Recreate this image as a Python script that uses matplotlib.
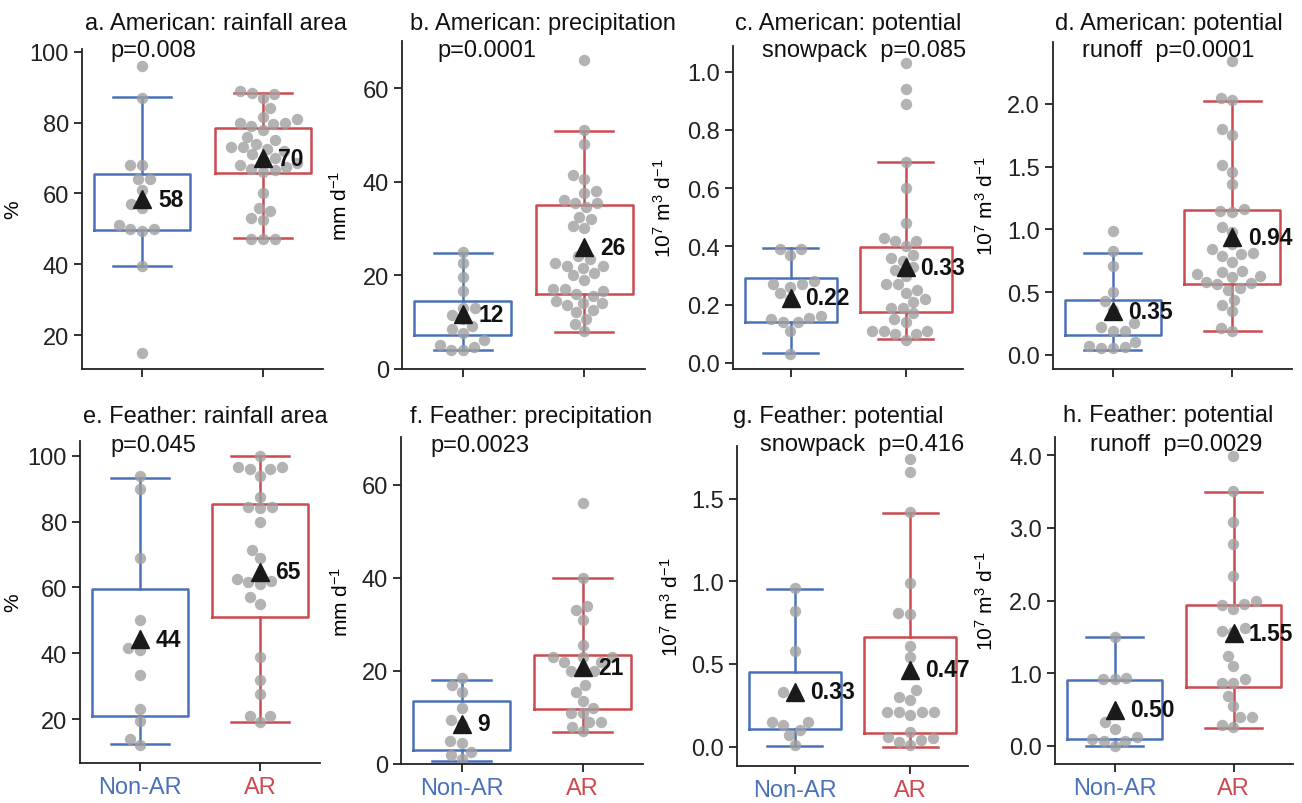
import matplotlib
matplotlib.use('Agg')
import numpy as np
import pandas as pd
import matplotlib.pyplot as plt
import seaborn as sns

plt.rcParams['font.family'] = ['Liberation Sans', 'DejaVu Sans']
plt.rcParams['mathtext.default'] = 'regular'

groups = ['Non-AR', 'AR']
blue = '#4a72b8'
red = '#cc4a50'
dot_color = '#a0a0a0'

titles = ['a. American: rainfall area', 'b. American: precipitation',
          'c. American: potential', 'd. American: potential',
          'e. Feather: rainfall area', 'f. Feather: precipitation',
          'g. Feather: potential', 'h. Feather: potential']
pnotes = ['p=0.008', 'p=0.0001', 'snowpack  p=0.085', 'runoff  p=0.0001',
          'p=0.045', 'p=0.0023', 'snowpack  p=0.416', 'runoff  p=0.0029']
unit_flow = r'10$^{7}$ m$^{3}$ d$^{-1}$'
ylabels = ['%', r'mm d$^{-1}$', unit_flow, unit_flow,
           '%', r'mm d$^{-1}$', unit_flow, unit_flow]

# individual events
a_non = [96, 87, 68, 68, 64, 64, 61, 57, 56, 50, 49.5, 50, 51, 39.5, 15]
a_ar = [89, 88.5, 88, 87, 84, 81.5, 81, 80, 80, 79.5, 79, 78, 76, 75, 74, 73, 73,
        72.5, 72, 71, 70, 69.5, 68.5, 68, 67.5, 67, 66.5, 66, 60, 56, 55, 53, 52.5,
        47, 47, 47]
b_non = [25, 22.5, 19.5, 16.5, 13, 13, 11.5, 10.5, 9, 8.5, 7.5, 6, 5, 4, 4, 4.5]
b_ar = [66, 51, 48, 41.5, 40.5, 38, 37.5, 36, 35.5, 35.5, 34.5, 32.5, 32, 30.5, 30,
        24, 23.5, 22.5, 22, 22, 21.5, 20.5, 20, 19, 17, 17, 16.5, 16, 15.5, 14.5,
        14, 14, 13.5, 12.5, 12, 10.5, 9.5, 8]
c_non = [0.39, 0.39, 0.37, 0.28, 0.27, 0.27, 0.26, 0.24, 0.22, 0.16, 0.155, 0.15,
         0.14, 0.14, 0.11, 0.03]
c_ar = [1.03, 0.94, 0.89, 0.69, 0.60, 0.48, 0.43, 0.42, 0.42, 0.40, 0.37, 0.36,
        0.35, 0.33, 0.32, 0.30, 0.27, 0.27, 0.25, 0.24, 0.22, 0.21, 0.19, 0.19,
        0.17, 0.15, 0.14, 0.11, 0.11, 0.10, 0.10, 0.11, 0.08]
d_non = [0.99, 0.83, 0.71, 0.50, 0.43, 0.36, 0.25, 0.22, 0.19, 0.19, 0.10, 0.06,
         0.05, 0.07, 0.05]
d_ar = [2.34, 2.05, 2.03, 1.80, 1.75, 1.51, 1.46, 1.36, 1.16, 1.15, 1.14, 1.02,
        0.98, 0.88, 0.84, 0.81, 0.80, 0.79, 0.74, 0.67, 0.66, 0.64, 0.63, 0.62,
        0.58, 0.57, 0.56, 0.53, 0.52, 0.44, 0.40, 0.35, 0.21, 0.19]
e_non = [94, 90, 69, 50, 41.5, 41, 33.5, 23, 19.5, 14, 12]
e_ar = [100, 96.5, 96, 96, 96.5, 94, 87.5, 84.5, 84.5, 84, 80, 71.5, 69, 62.5, 62,
        61.5, 61, 57, 55, 39, 32, 27.5, 21, 21, 19]
f_non = [18.5, 17, 15.5, 12, 9.5, 8.5, 5, 4.5, 2, 2.5, 1]
f_ar = [56, 40, 34, 33, 31, 25.5, 23, 23, 23, 22, 22, 20, 20, 20, 17, 15.5, 13.5,
        12, 11, 11, 9, 9, 8, 7]
g_non = [0.96, 0.82, 0.58, 0.33, 0.32, 0.15, 0.15, 0.13, 0.10, 0.07, 0.01]
g_ar = [1.74, 1.66, 1.42, 0.99, 0.81, 0.80, 0.61, 0.54, 0.44, 0.34, 0.30, 0.28,
        0.21, 0.21, 0.21, 0.21, 0.19, 0.09, 0.06, 0.05, 0.04, 0.03, 0.01]
h_non = [1.5, 0.93, 0.92, 0.92, 0.33, 0.23, 0.12, 0.07, 0.07, 0.09, 0.0]
h_ar = [3.99, 3.51, 3.08, 2.78, 2.34, 2.0, 1.95, 1.94, 1.88, 1.62, 1.58, 1.57,
        1.24, 1.10, 0.92, 0.87, 0.86, 0.69, 0.55, 0.40, 0.39, 0.28, 0.26]

non_vals = [a_non, b_non, c_non, d_non, e_non, f_non, g_non, h_non]
ar_vals = [a_ar, b_ar, c_ar, d_ar, e_ar, f_ar, g_ar, h_ar]

# box stats: q1, q3, lower whisker, upper whisker
box_non = [[49.7, 65.4, 39.5, 87.1], [7.1, 14.5, 4.0, 24.7],
           [0.14, 0.29, 0.033, 0.394], [0.16, 0.44, 0.04, 0.81],
           [21, 59.5, 12.4, 93.4], [3.1, 13.6, 0.7, 18.1],
           [0.107, 0.453, 0.006, 0.952], [0.09, 0.91, 0.0, 1.5]]
box_ar = [[65.7, 78.6, 47.3, 88.5], [15.9, 35.1, 7.9, 50.8],
          [0.176, 0.397, 0.082, 0.689], [0.566, 1.155, 0.19, 2.02],
          [50.9, 85.3, 19, 100], [11.8, 23.4, 6.9, 39.9],
          [0.083, 0.66, 0.0, 1.415], [0.81, 1.94, 0.24, 3.5]]

mean_non = [58.4, 11.6, 0.223, 0.348, 44.3, 8.6, 0.33, 0.498]
mean_ar = [69.9, 25.9, 0.328, 0.938, 64.7, 20.8, 0.466, 1.552]
decimals = [0, 0, 2, 2, 0, 0, 2, 2]

ylims = [(10.4, 100.8), (0, 70.1), (-0.021, 1.088), (-0.11, 2.494),
         (6.8, 104.5), (0, 70.2), (-0.115, 1.819), (-0.25, 4.25)]
yticks = [[20, 40, 60, 80, 100], [0, 20, 40, 60], [0, 0.2, 0.4, 0.6, 0.8, 1.0],
          [0, 0.5, 1.0, 1.5, 2.0], [20, 40, 60, 80, 100], [0, 20, 40, 60],
          [0, 0.5, 1.0, 1.5], [0, 1, 2, 3, 4]]
tick_fmt = ['%d', '%d', '%.1f', '%.1f', '%d', '%d', '%.1f', '%.1f']

W, H = 1302, 804
fig = plt.figure(figsize=(W / 100, H / 100), dpi=100)

# axes boxes in pixels: left, top, right, bottom
rects = [(82, 50, 323, 370), (402, 42, 645, 369.5), (733, 47, 963, 370),
         (1053, 43, 1292, 369.5), (80, 442, 320, 763.5), (401, 438, 643, 765),
         (737, 447, 968, 766.5), (1055, 438, 1293, 765)]
title_pos = [(85, 30, 110, 57), (410, 30, 437, 57), (735, 30, 762, 57),
             (1055, 30, 1082, 57), (83, 423, 110, 452), (410, 423, 430, 452),
             (733, 423, 760, 451), (1063, 422, 1090, 451)]
ylab_x = [-0.249, -0.21, -0.252, -0.234, -0.242, -0.203, -0.238, -0.244]

for i in range(8):
    l, t, r, b = rects[i]
    ax = fig.add_axes([l / W, 1 - b / H, (r - l) / W, (b - t) / H])

    df = pd.DataFrame({'group': ['Non-AR'] * len(non_vals[i]) + ['AR'] * len(ar_vals[i]),
                       'value': non_vals[i] + ar_vals[i]})
    sns.swarmplot(data=df, x='group', y='value', order=groups, color=dot_color,
                  size=8.2, alpha=0.8, linewidth=0, ax=ax, zorder=2)

    for k, (st, col) in enumerate([(box_non[i], blue), (box_ar[i], red)]):
        stats = [dict(med=(st[0] + st[1]) / 2, q1=st[0], q3=st[1],
                      whislo=st[2], whishi=st[3], fliers=[])]
        lp = dict(color=col, linewidth=1.8)
        ax.bxp(stats, positions=[k], widths=0.8, capwidths=0.48, showfliers=False,
               boxprops=lp, whiskerprops=lp, capprops=lp,
               medianprops=dict(visible=False), manage_ticks=False, zorder=1)

    fmt = '%.' + str(decimals[i]) + 'f'
    for k, m in enumerate([mean_non[i], mean_ar[i]]):
        ax.plot(k, m, marker='^', color='#1a1a1a', markersize=12.5, zorder=4,
                linestyle='none')
        ax.text(k + 0.13, m, fmt % m, fontsize=16.5, fontweight='bold',
                color='#111111', ha='left', va='center', zorder=5)

    ax.set_xlim(-0.5, 1.5)
    ax.set_ylim(*ylims[i])
    ax.set_yticks(yticks[i])
    ax.set_yticklabels([tick_fmt[i] % v for v in yticks[i]])
    ax.set_xticks([0, 1])
    if i >= 4:
        ax.set_xticklabels(groups)
    else:
        ax.set_xticklabels(['', ''])
    ax.set_xlabel('')
    ax.set_ylabel(ylabels[i], fontsize=15)
    ax.yaxis.set_label_coords(ylab_x[i], 0.5)
    ax.tick_params(labelsize=17, length=6, width=1.3, colors='#222222')
    for s in ['top', 'right']:
        ax.spines[s].set_visible(False)
    for s in ['left', 'bottom']:
        ax.spines[s].set_linewidth(1.3)
        ax.spines[s].set_color('#222222')
    if i >= 4:
        for lab, col in zip(ax.get_xticklabels(), [blue, red]):
            lab.set_color(col)

    x1, y1, x2, y2 = title_pos[i]
    fig.text(x1 / W, 1 - y1 / H, titles[i], fontsize=17, ha='left',
             va='baseline', color='#111111')
    fig.text(x2 / W, 1 - y2 / H, pnotes[i], fontsize=17, ha='left',
             va='baseline', color='#111111')

fig.savefig('out.png', dpi=100)
